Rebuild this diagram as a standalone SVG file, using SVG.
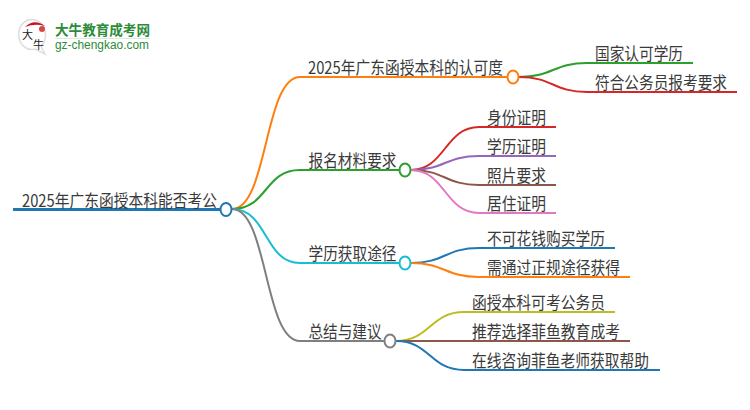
<svg xmlns="http://www.w3.org/2000/svg" width="750" height="410" viewBox="0 0 750 410">
<style>
text{font-family:"Noto Sans CJK SC","Liberation Sans",sans-serif;font-size:17px;fill:#3a3a3a}
.c{fill:none;stroke-width:2}
.n{fill:#fff;stroke-width:2}
.o{stroke:#ff7f0e}.g{stroke:#2ca02c}.r{stroke:#d62728}.p{stroke:#9467bd}.b{stroke:#8c564b}.k{stroke:#e377c2}.y{stroke:#7f7f7f}.l{stroke:#bcbd22}.t{stroke:#17becf}.u{stroke:#1f77b4}
.lg{font-weight:700;fill:#2e8b3a;font-size:14px}
</style>
<rect width="750" height="410" fill="#fff"/>
<g id="logo">
<path d="M35 20a13 15 0 1 0 0 29l10 5-4-8a13 15 0 0 0-6-26z" fill="#fff" stroke="#ddd" stroke-width="1.500"/>
<path d="M25 27q9-9 20-1q-10-3-20 1z" fill="#c8141e"/>
<circle cx="42" cy="29" r="3" fill="#d9444c"/>
<text x="22" y="39" style="font-size:11px;fill:#222">大</text>
<text x="33" y="49" style="font-size:11px;fill:#222">牛</text>
<text x="55" y="35" class="lg" textLength="95" lengthAdjust="spacingAndGlyphs">大牛教育成考网</text>
<rect x="55" y="38" width="95" height="1" fill="#dfe8df"/>
<text x="55" y="49" textLength="94" lengthAdjust="spacingAndGlyphs" style="font-family:'Liberation Sans',sans-serif;font-size:12px;fill:#2e8b3a">gz-chengkao.com</text>
</g>
<g id="connectors">
<path class="c u" style="stroke-width:3" d="M13 209.500H220"/>
<path class="c o" d="M232 209C268 209 264 77 300 77H507"/>
<path class="c g" d="M232 209C268 209 264 170 300 170H399"/>
<path class="c t" d="M232 209C268 209 264 263 300 263H399"/>
<path class="c y" d="M232 209C268 209 264 341 300 341H384"/>
<path class="c g" d="M519 77C553 77 553 63 587 63H693"/>
<path class="c r" d="M519 77C553 77 553 92 587 92H737"/>
<path class="c r" d="M411 170C445 170 445 127 479 127H556"/>
<path class="c p" d="M411 170C445 170 445 156 479 156H556"/>
<path class="c b" d="M411 170C445 170 445 185 479 185H556"/>
<path class="c k" d="M411 170C445 170 445 213 479 213H556"/>
<path class="c u" d="M411 263C445 263 445 248 479 248H615"/>
<path class="c o" d="M411 263C445 263 445 277 479 277H630"/>
<path class="c l" d="M396 341C430 341 430 312 464 312H615"/>
<path class="c b" d="M396 341C430 341 430 341 464 341H630"/>
<path class="c u" d="M396 341C430 341 430 370 464 370H660"/>
</g>
<g id="root"><text x="22" y="206.500" textLength="195" lengthAdjust="spacingAndGlyphs">2025年广东函授本科能否考公</text><ellipse class="n u" cx="226" cy="209.500" rx="5.500" ry="6.500"/></g>
<g id="n1"><text x="308" y="74" textLength="195" lengthAdjust="spacingAndGlyphs">2025年广东函授本科的认可度</text><ellipse class="n o" cx="513" cy="77" rx="5.500" ry="6.500"/></g>
<g id="n2"><text x="308.500" y="167" textLength="88" lengthAdjust="spacingAndGlyphs">报名材料要求</text><ellipse class="n g" cx="405" cy="170" rx="5.500" ry="6.500"/></g>
<g id="n3"><text x="308.500" y="260" textLength="88" lengthAdjust="spacingAndGlyphs">学历获取途径</text><ellipse class="n t" cx="405" cy="263" rx="5.500" ry="6.500"/></g>
<g id="n4"><text x="308.500" y="338" textLength="73" lengthAdjust="spacingAndGlyphs">总结与建议</text><ellipse class="n y" cx="390" cy="341" rx="5.500" ry="6.500"/></g>
<g id="n1a"><text x="595" y="60" textLength="88" lengthAdjust="spacingAndGlyphs">国家认可学历</text></g>
<g id="n1b"><text x="595" y="89" textLength="132" lengthAdjust="spacingAndGlyphs">符合公务员报考要求</text></g>
<g id="n2a"><text x="487" y="123.500" textLength="59" lengthAdjust="spacingAndGlyphs">身份证明</text></g>
<g id="n2b"><text x="487" y="152.500" textLength="59" lengthAdjust="spacingAndGlyphs">学历证明</text></g>
<g id="n2c"><text x="487" y="181.500" textLength="59" lengthAdjust="spacingAndGlyphs">照片要求</text></g>
<g id="n2d"><text x="487" y="209.500" textLength="59" lengthAdjust="spacingAndGlyphs">居住证明</text></g>
<g id="n3a"><text x="487" y="245" textLength="118" lengthAdjust="spacingAndGlyphs">不可花钱购买学历</text></g>
<g id="n3b"><text x="487" y="274" textLength="133" lengthAdjust="spacingAndGlyphs">需通过正规途径获得</text></g>
<g id="n4a"><text x="472" y="309" textLength="133" lengthAdjust="spacingAndGlyphs">函授本科可考公务员</text></g>
<g id="n4b"><text x="472" y="338" textLength="148" lengthAdjust="spacingAndGlyphs">推荐选择菲鱼教育成考</text></g>
<g id="n4c"><text x="472" y="367" textLength="177" lengthAdjust="spacingAndGlyphs">在线咨询菲鱼老师获取帮助</text></g>
</svg>
